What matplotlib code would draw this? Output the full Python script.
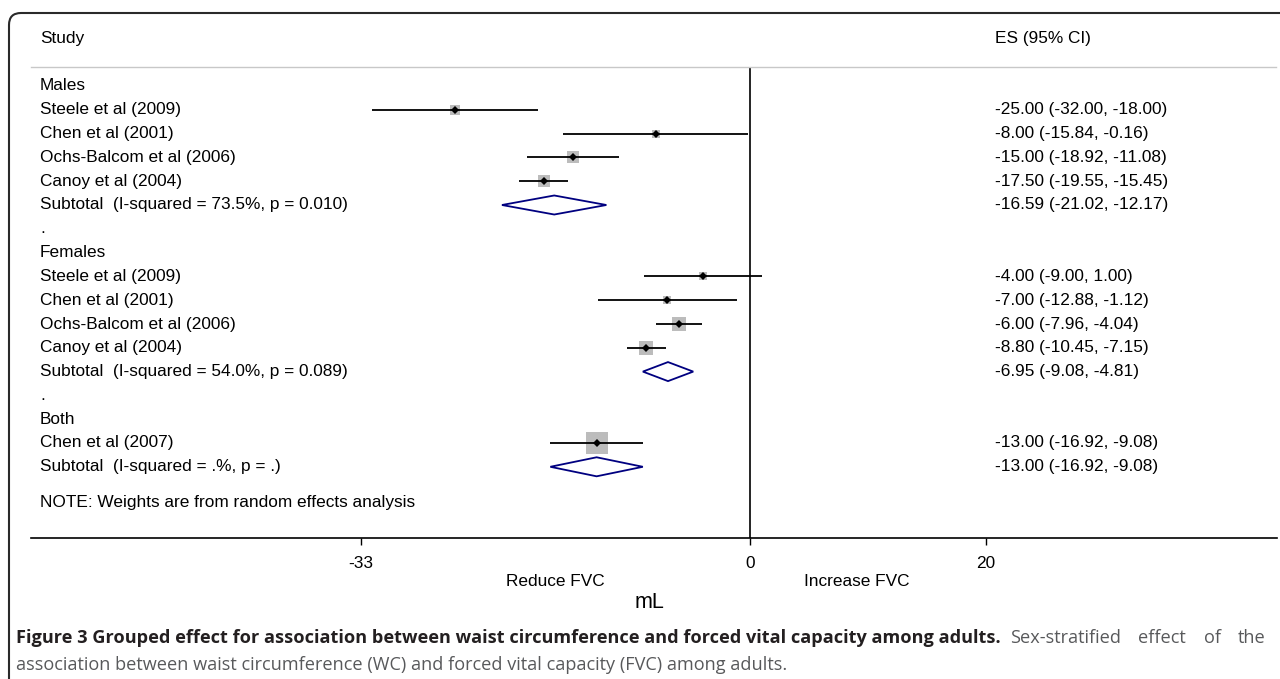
import matplotlib
matplotlib.use("Agg")
import matplotlib.pyplot as plt
from matplotlib.path import Path
from matplotlib.patches import PathPatch, Polygon
from matplotlib.transforms import blended_transform_factory

# ---------------------------------------------------------------
# Data
# ---------------------------------------------------------------
group_names = ['Males', 'Females', 'Both']
study_names = ['Steele et al (2009)', 'Chen et al (2001)', 'Ochs-Balcom et al (2006)', 'Canoy et al (2004)',
               'Steele et al (2009)', 'Chen et al (2001)', 'Ochs-Balcom et al (2006)', 'Canoy et al (2004)',
               'Chen et al (2007)']
study_group = [0, 0, 0, 0, 1, 1, 1, 1, 2]
study_es = [-25.00, -8.00, -15.00, -17.50, -4.00, -7.00, -6.00, -8.80, -13.00]
study_lo = [-32.00, -15.84, -18.92, -19.55, -9.00, -12.88, -7.96, -10.45, -16.92]
study_hi = [-18.00, -0.16, -11.08, -15.45, 1.00, -1.12, -4.04, -7.15, -9.08]
# random-effects weights within each subgroup (%)
study_weight = [20.5, 16.5, 29.5, 33.5, 15.0, 12.0, 36.5, 36.5, 100.0]

subtotal_labels = ['Subtotal  (I-squared = 73.5%, p = 0.010)',
                   'Subtotal  (I-squared = 54.0%, p = 0.089)',
                   'Subtotal  (I-squared = .%, p = .)']
subtotal_es = [-16.59, -6.95, -13.00]
subtotal_lo = [-21.02, -9.08, -16.92]
subtotal_hi = [-12.17, -4.81, -9.08]

x_ticks = [-33, 0, 20]
note_text = 'NOTE: Weights are from random effects analysis'

caption_bold = ('Figure 3 Grouped effect for association between waist circumference '
                'and forced vital capacity among adults.')
caption_rest1 = 'Sex-stratified effect of the'
caption_rest2 = ('association between waist circumference (WC) and forced vital capacity '
                 '(FVC) among adults.')

# ---------------------------------------------------------------
# Figure setup
# ---------------------------------------------------------------
W, H = 1280, 679
fig = plt.figure(figsize=(W / 100, H / 100), dpi=100)
fig.patch.set_facecolor('white')
FONT = 'Liberation Sans'
FS = 12.4


def fx(px):
    return px / W


def fy(py):
    return 1 - py / H


# plot area: x from 31 to 1277 px, y from 68 to 538 px
ax = fig.add_axes([fx(31), fy(538), fx(1277) - fx(31), fy(68) - fy(538)])
x_px0, x_scale = 750, 11.8
ax.set_xlim((31 - x_px0) / x_scale, (1277 - x_px0) / x_scale)
row_px0, row_step = 86, 23.8
ax.set_ylim((538 - row_px0) / row_step, (68 - row_px0) / row_step)

for side in ['left', 'right', 'top']:
    ax.spines[side].set_visible(False)
ax.spines['bottom'].set_linewidth(1.2)
ax.set_yticks([])
ax.set_xticks(x_ticks)
ax.set_xticklabels([str(t) for t in x_ticks], fontsize=FS, fontfamily=FONT)
ax.tick_params(axis='x', direction='out', length=5, width=1.0, pad=8)

# zero line
ax.axvline(0, color='black', lw=1.2, zorder=1)

label_tr = blended_transform_factory(fig.transFigure, ax.transData)
es_x = fx(995)
lab_x = fx(40)

# build rows
row = 0
for g, gname in enumerate(group_names):
    ax.text(lab_x, row, gname, transform=label_tr, va='center', ha='left',
            fontsize=FS, fontfamily=FONT, clip_on=False)
    row += 1
    for i in range(len(study_names)):
        if study_group[i] != g:
            continue
        side_pt = 22 * (study_weight[i] / 100) ** 0.5 * 72 / 100
        ax.plot(study_es[i], row, marker='s', markersize=side_pt, color='#bcbcbc',
                markeredgewidth=0, zorder=2)
        ax.plot([study_lo[i], study_hi[i]], [row, row], color='black', lw=1.3,
                solid_capstyle='butt', zorder=3)
        ax.plot(study_es[i], row, marker='D', markersize=3.6, color='black',
                markeredgewidth=0, zorder=4)
        ax.text(lab_x, row, study_names[i], transform=label_tr, va='center', ha='left',
                fontsize=FS, fontfamily=FONT, clip_on=False)
        ax.text(es_x, row, f'{study_es[i]:.2f} ({study_lo[i]:.2f}, {study_hi[i]:.2f})',
                transform=label_tr, va='center', ha='left', fontsize=FS, fontfamily=FONT,
                clip_on=False)
        row += 1
    # subtotal diamond
    h = 0.4
    dia = Polygon([[subtotal_lo[g], row], [subtotal_es[g], row - h],
                   [subtotal_hi[g], row], [subtotal_es[g], row + h]],
                  closed=True, facecolor='white', edgecolor='#000080', lw=1.3, zorder=3)
    ax.add_patch(dia)
    ax.text(lab_x, row, subtotal_labels[g], transform=label_tr, va='center', ha='left',
            fontsize=FS, fontfamily=FONT, clip_on=False)
    ax.text(es_x, row, f'{subtotal_es[g]:.2f} ({subtotal_lo[g]:.2f}, {subtotal_hi[g]:.2f})',
            transform=label_tr, va='center', ha='left', fontsize=FS, fontfamily=FONT,
            clip_on=False)
    row += 1
    if g < len(group_names) - 1:
        ax.text(lab_x, row, '.', transform=label_tr, va='center', ha='left',
                fontsize=FS, fontfamily=FONT, clip_on=False)
        row += 1

ax.text(lab_x, row + 0.5, note_text, transform=label_tr, va='center', ha='left',
        fontsize=FS, fontfamily=FONT, clip_on=False)

# headers and header rule
fig.text(fx(40), fy(39), 'Study', va='center', ha='left', fontsize=FS, fontfamily=FONT)
fig.text(es_x, fy(39), 'ES (95% CI)', va='center', ha='left', fontsize=FS, fontfamily=FONT)
fig.add_artist(plt.Line2D([fx(31), fx(1276)], [fy(67), fy(67)], color='#c8c8c8', lw=1.0))

# axis annotations
fig.text(fx(555), fy(582), 'Reduce FVC', va='center', ha='center', fontsize=FS, fontfamily=FONT)
fig.text(fx(857), fy(582), 'Increase FVC', va='center', ha='center', fontsize=FS, fontfamily=FONT)
fig.text(fx(650), fy(602), 'mL', va='center', ha='center', fontsize=15.5, fontfamily=FONT)

# rounded frame (top-left corner)
verts = [(fx(9), fy(679)), (fx(9), fy(25)), (fx(9), fy(13)), (fx(21), fy(13)), (fx(1280), fy(13))]
codes = [Path.MOVETO, Path.LINETO, Path.CURVE3, Path.CURVE3, Path.LINETO]
fig.add_artist(PathPatch(Path(verts, codes), transform=fig.transFigure, facecolor='none',
                         edgecolor='#2a2a2a', lw=1.5))

# caption; first line is justified, so spread the regular words up to the right margin
CAP_FONT = 'Open Sans'
CAP_FS = 13.1
t1 = fig.text(fx(16), fy(638), caption_bold, va='center', ha='left', fontsize=CAP_FS,
              fontfamily=CAP_FONT, fontweight='bold', color='#231f20')
renderer = fig.canvas.get_renderer()
start = t1.get_window_extent(renderer=renderer).x1 + 9
words = caption_rest1.split()
word_artists = [fig.text(0, fy(638), w, va='center', ha='left', fontsize=CAP_FS,
                         fontfamily=CAP_FONT, color='#58595b') for w in words]
widths = [a.get_window_extent(renderer=renderer).width for a in word_artists]
gap = (1266 - start - sum(widths)) / (len(words) - 1)
pos = start
for a, wd in zip(word_artists, widths):
    a.set_x(pos / W)
    pos += wd + gap
fig.text(fx(16), fy(665), caption_rest2, va='center', ha='left', fontsize=CAP_FS,
         fontfamily=CAP_FONT, color='#58595b')

fig.savefig('out.png', dpi=100)
